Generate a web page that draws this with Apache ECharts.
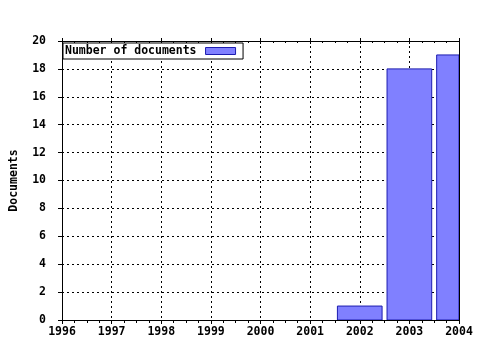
<!DOCTYPE html>
<html>
<head>
<meta charset="utf-8">
<script src="https://cdn.jsdelivr.net/npm/echarts@6/dist/echarts.min.js"></script>
<style>html,body{margin:0;padding:0;background:#fff;}#c{width:480px;height:350px;}</style>
</head>
<body>
<div id="c"></div>
<script>
var years = [2002, 2003, 2004];
var counts = [1, 18, 19];
var seriesName = 'Number of documents';
var yAxisTitle = 'Documents';
var xMin = 1996, xMax = 2004;
var yMin = 0, yMax = 20, yStep = 2;

var FONT = '"DejaVu Sans Mono", monospace';
var FS = 11.5;
var BAR_FILL = '#8080ff', BAR_EDGE = '#1c1cb0';
var chart = echarts.init(document.getElementById('c'), null, {renderer: 'canvas'});
var pairs = years.map(function (y, i) { return [y, counts[i]]; });
var dash = {color: '#000', width: 1, type: [2, 3]};
var axisBase = {
  type: 'value', min: xMin, max: xMax, interval: 1,
  axisLine: {show: true, onZero: false, lineStyle: {color: '#000', width: 1}}
};
chart.setOption({
  animation: false,
  backgroundColor: '#fff',
  grid: {left: 57, right: 21, top: 41, bottom: 30, containLabel: false},
  legend: {
    show: true,
    left: 63, top: 43,
    align: 'right',
    orient: 'horizontal',
    padding: [2, 7, 2, 2],
    borderColor: '#000', borderWidth: 1, borderRadius: 0,
    backgroundColor: '#fff',
    itemWidth: 30, itemHeight: 7,
    formatter: function (n) { return '{a|' + n + '}'; },
    textStyle: {fontFamily: FONT, fontWeight: 'bold', fontSize: FS, color: '#000',
      rich: {a: {fontFamily: FONT, fontWeight: 'bold', fontSize: FS, color: '#000', padding: [0, 4, 0, 0]}}},
    data: [{name: seriesName, icon: 'rect', itemStyle: {color: BAR_FILL, borderColor: BAR_EDGE, borderWidth: 1}}]
  },
  xAxis: [
    Object.assign({}, axisBase, {
      position: 'bottom',
      axisTick: {show: true, length: 4, lineStyle: {color: '#000'}},
      minorTick: {show: true, splitNumber: 4, length: 3, lineStyle: {color: '#000'}},
      splitLine: {show: true, lineStyle: dash},
      axisLabel: {fontFamily: FONT, fontWeight: 'bold', fontSize: FS, color: '#000', margin: 6,
        formatter: function (v) { return String(v); }}
    }),
    Object.assign({}, axisBase, {
      position: 'top',
      axisTick: {show: true, inside: true, length: 3, lineStyle: {color: '#000'}},
      minorTick: {show: true, splitNumber: 4, length: 2, lineStyle: {color: '#000'}},
      splitLine: {show: false},
      axisLabel: {show: false}
    }),
    Object.assign({}, axisBase, {
      position: 'top',
      axisLine: {show: false, onZero: false},
      axisTick: {show: true, inside: false, length: 3, lineStyle: {color: '#000'}},
      splitLine: {show: false},
      axisLabel: {show: false}
    })
  ],
  yAxis: [{
    type: 'value', position: 'left',
    min: yMin, max: yMax, interval: yStep,
    name: yAxisTitle, nameLocation: 'middle', nameGap: 42, nameRotate: 90,
    nameTextStyle: {fontFamily: FONT, fontWeight: 'bold', fontSize: FS, color: '#000'},
    axisLine: {show: true, onZero: false, lineStyle: {color: '#000', width: 1}},
    axisTick: {show: true, length: 4, lineStyle: {color: '#000'}},
    splitLine: {show: true, lineStyle: dash},
    axisLabel: {fontFamily: FONT, fontWeight: 'bold', fontSize: FS, color: '#000', margin: 16}
  }, {
    type: 'value', position: 'right',
    min: yMin, max: yMax, interval: yStep,
    axisLine: {show: true, onZero: false, lineStyle: {color: '#000', width: 1}},
    axisTick: {show: false},
    splitLine: {show: false},
    axisLabel: {show: false}
  }],
  series: [{
    name: seriesName,
    type: 'custom',
    xAxisIndex: 0, yAxisIndex: 0,
    clip: true,
    itemStyle: {color: BAR_FILL, borderColor: BAR_EDGE, borderWidth: 1},
    encode: {x: 0, y: 1},
    renderItem: function (params, api) {
      var x = api.value(0), v = api.value(1);
      var top = api.coord([x, v]);
      var base = api.coord([x, 0]);
      var w = api.size([1, 0])[0] * 0.9;
      var rect = echarts.graphic.clipRectByRect(
        {x: top[0] - w / 2, y: top[1], width: w, height: base[1] - top[1]},
        {x: params.coordSys.x, y: params.coordSys.y - 1, width: params.coordSys.width, height: params.coordSys.height + 2}
      );
      if (!rect) return null;
      return {type: 'rect', shape: rect, style: {fill: BAR_FILL, stroke: BAR_EDGE, lineWidth: 1}};
    },
    data: pairs
  }]
});
</script>
</body>
</html>
